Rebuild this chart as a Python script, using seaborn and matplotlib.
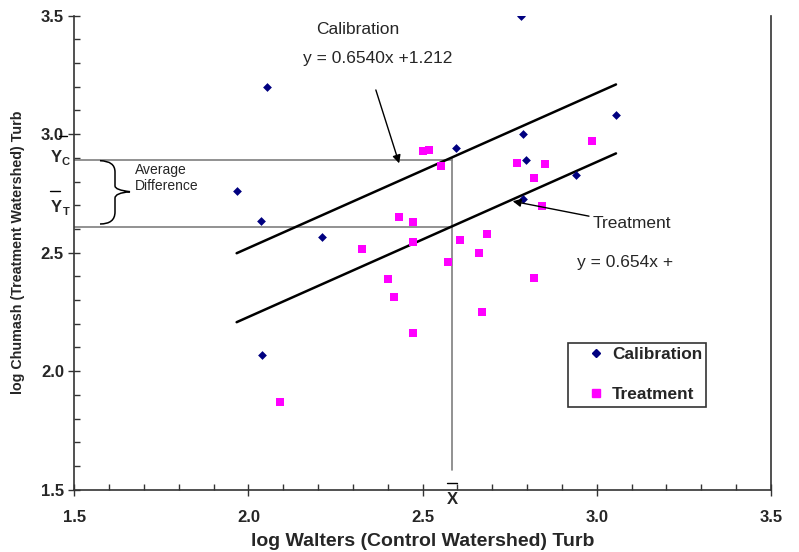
import numpy as np
import pandas as pd
import seaborn as sns
import matplotlib
matplotlib.use("Agg")
import matplotlib.pyplot as plt
from matplotlib.path import Path
from matplotlib.patches import PathPatch
from matplotlib.ticker import MultipleLocator
from matplotlib.lines import Line2D

# ---- data ----
cal_x = [1.966, 2.053, 2.036, 2.039, 2.212, 2.596, 2.789, 2.782, 2.797, 2.789, 2.940, 3.055]
cal_y = [2.762, 3.198, 2.632, 2.068, 2.565, 2.940, 3.001, 3.499, 2.891, 2.728, 2.827, 3.081]
trt_x = [2.502, 2.519, 2.553, 2.772, 2.985, 2.850, 2.819, 2.843, 2.433, 2.473, 2.327,
         2.471, 2.607, 2.685, 2.662, 2.572, 2.401, 2.417, 2.821, 2.669, 2.471, 2.090]
trt_y = [2.929, 2.933, 2.867, 2.880, 2.970, 2.874, 2.814, 2.698, 2.652, 2.628, 2.516,
         2.545, 2.554, 2.577, 2.500, 2.461, 2.389, 2.312, 2.395, 2.249, 2.160, 1.870]
slope = 0.654
cal_intercept = 1.212
trt_intercept = 0.921
x_bar = 2.583
y_c = 2.893
y_t = 2.610
x_ticks = [1.5, 2.0, 2.5, 3.0, 3.5]
y_ticks = [1.5, 2.0, 2.5, 3.0, 3.5]
series_names = ["Calibration", "Treatment"]

W, H = 799, 552
AX_L, AX_R, AX_T, AX_B = 74.3, 771.0, 15.7, 489.7

sns.set_style("white")
plt.rcParams['font.family'] = ['Liberation Sans', 'DejaVu Sans']

fig = plt.figure(figsize=(W / 100, H / 100), dpi=100)
fig.patch.set_facecolor("white")
ax = fig.add_axes([AX_L / W, 1 - AX_B / H, (AX_R - AX_L) / W, (AX_B - AX_T) / H])


def d(px, py):
    """pixel position -> data position (for annotation layout)"""
    return (1.5 + (px - AX_L) / (AX_R - AX_L) * 2.0,
            3.5 - (py - AX_T) / (AX_B - AX_T) * 2.0)


def f(px, py):
    return (px / W, 1 - py / H)


df = pd.DataFrame({
    "x": cal_x + trt_x,
    "y": cal_y + trt_y,
    "series": [series_names[0]] * len(cal_x) + [series_names[1]] * len(trt_x),
})
palette = {"Calibration": "#000080", "Treatment": "#FF00FF"}

# reference lines (gray)
ax.plot([1.5, x_bar], [y_c, y_c], color="#7f7f7f", lw=1.2, zorder=1)
ax.plot([1.5, x_bar], [y_t, y_t], color="#7f7f7f", lw=1.2, zorder=1)
x_lo, x_hi = min(cal_x), max(cal_x)
ax.plot([x_bar, x_bar], [1.583, cal_intercept + slope * x_bar], color="#7f7f7f", lw=1.2, zorder=1)

# regression lines
line_x = np.array([x_lo, x_hi])
sns.lineplot(x=line_x, y=cal_intercept + slope * line_x, color="black", lw=1.8, ax=ax, zorder=2)
sns.lineplot(x=line_x, y=trt_intercept + slope * line_x, color="black", lw=1.8, ax=ax, zorder=2)

sns.scatterplot(data=df[df.series == "Calibration"], x="x", y="y", color=palette["Calibration"],
                marker="D", s=20, linewidth=0, ax=ax, zorder=3)
sns.scatterplot(data=df[df.series == "Treatment"], x="x", y="y", color=palette["Treatment"],
                marker="s", s=36, linewidth=0, ax=ax, zorder=3)

ax.set_xlim(1.5, 3.5)
ax.set_ylim(1.5, 3.5)
ax.set_xticks(x_ticks)
ax.set_yticks(y_ticks)
ax.set_xticklabels([f"{v:.1f}" for v in x_ticks], fontweight="bold", fontsize=12)
ax.set_yticklabels([f"{v:.1f}" for v in y_ticks], fontweight="bold", fontsize=12)
ax.xaxis.set_minor_locator(MultipleLocator(0.1))
ax.yaxis.set_minor_locator(MultipleLocator(0.1))
ax.tick_params(which="major", direction="inout", length=9, width=1, color="#333333", pad=10)
ax.tick_params(axis="y", which="major", pad=3)
ax.tick_params(which="minor", direction="in", length=4, width=1, color="#333333")
ax.tick_params(bottom=True, left=True, which="both")

for s in ["left", "bottom", "right"]:
    ax.spines[s].set_color("#333333")
    ax.spines[s].set_linewidth(1.2)
ax.spines["top"].set_visible(False)

ax.set_xlabel("log Walters (Control Watershed) Turb", fontsize=14, fontweight="bold", labelpad=6)
ax.set_ylabel("log Chumash (Treatment Watershed) Turb", fontsize=10.3, fontweight="bold", labelpad=11)

# annotations
ax.text(*d(358, 29), "Calibration", fontsize=12.5, ha="center", va="center")
ax.text(*d(377.5, 58), "y = 0.6540x +1.212", fontsize=12.5, ha="center", va="center")
ax.annotate("", xy=d(400, 166), xytext=d(375, 87.3),
            arrowprops=dict(arrowstyle="-|>", color="black", lw=1, mutation_scale=12))
ax.text(*d(593, 223), "Treatment", fontsize=12.5, ha="left", va="center")
ax.text(*d(577, 262), "y = 0.654x +", fontsize=12.5, ha="left", va="center")
ax.annotate("", xy=d(510, 200.7), xytext=d(591.7, 216.7),
            arrowprops=dict(arrowstyle="-|>", color="black", lw=1, mutation_scale=12))

ax.text(*d(135, 178), "Average\nDifference", fontsize=10, ha="left", va="center", linespacing=1.15)

# brace
pts_px = [(100, 160.7), (115, 161), (115, 172), (115, 186), (115, 190), (130, 191.7),
          (115, 193), (115, 198), (115, 212), (115, 224), (100, 224)]
verts = [d(*p) for p in pts_px]
codes = [Path.MOVETO, Path.CURVE3, Path.CURVE3, Path.LINETO, Path.CURVE3, Path.CURVE3,
         Path.CURVE3, Path.CURVE3, Path.LINETO, Path.CURVE3, Path.CURVE3]
ax.add_patch(PathPatch(Path(verts, codes), facecolor="none", edgecolor="black", lw=1.1, clip_on=False))

# Y_C, Y_T, X-bar labels
fig.text(*f(56, 157), "Y", fontsize=12, fontweight="bold", ha="center", va="center")
fig.text(*f(66, 162), "C", fontsize=8, fontweight="bold", ha="center", va="center")
fig.add_artist(Line2D([59 / W, 67 / W], [1 - 135.7 / H, 1 - 135.7 / H], color="black", lw=1))
fig.text(*f(56, 207), "Y", fontsize=12, fontweight="bold", ha="center", va="center")
fig.text(*f(66, 212), "T", fontsize=8, fontweight="bold", ha="center", va="center")
fig.add_artist(Line2D([50 / W, 60 / W], [1 - 191 / H, 1 - 191 / H], color="black", lw=1))
fig.text(*f(452, 499), "X", fontsize=12, fontweight="bold", ha="center", va="center")
fig.add_artist(Line2D([447 / W, 457 / W], [1 - 483 / H, 1 - 483 / H], color="black", lw=1))

# legend
handles = [Line2D([], [], marker="D", color=palette["Calibration"], ls="none", markersize=4.5),
           Line2D([], [], marker="s", color=palette["Treatment"], ls="none", markersize=6)]
leg = ax.legend(handles, series_names, loc="upper left",
                bbox_to_anchor=f(568, 343), bbox_transform=fig.transFigure,
                prop={"weight": "bold", "size": 12.4}, frameon=True, fancybox=False,
                edgecolor="#333333", framealpha=1, borderpad=0.25, labelspacing=1.45,
                handlelength=2.8, handletextpad=-0.5, borderaxespad=0)
leg.get_frame().set_linewidth(1.2)

fig.savefig("out.png", dpi=100, facecolor="white")
